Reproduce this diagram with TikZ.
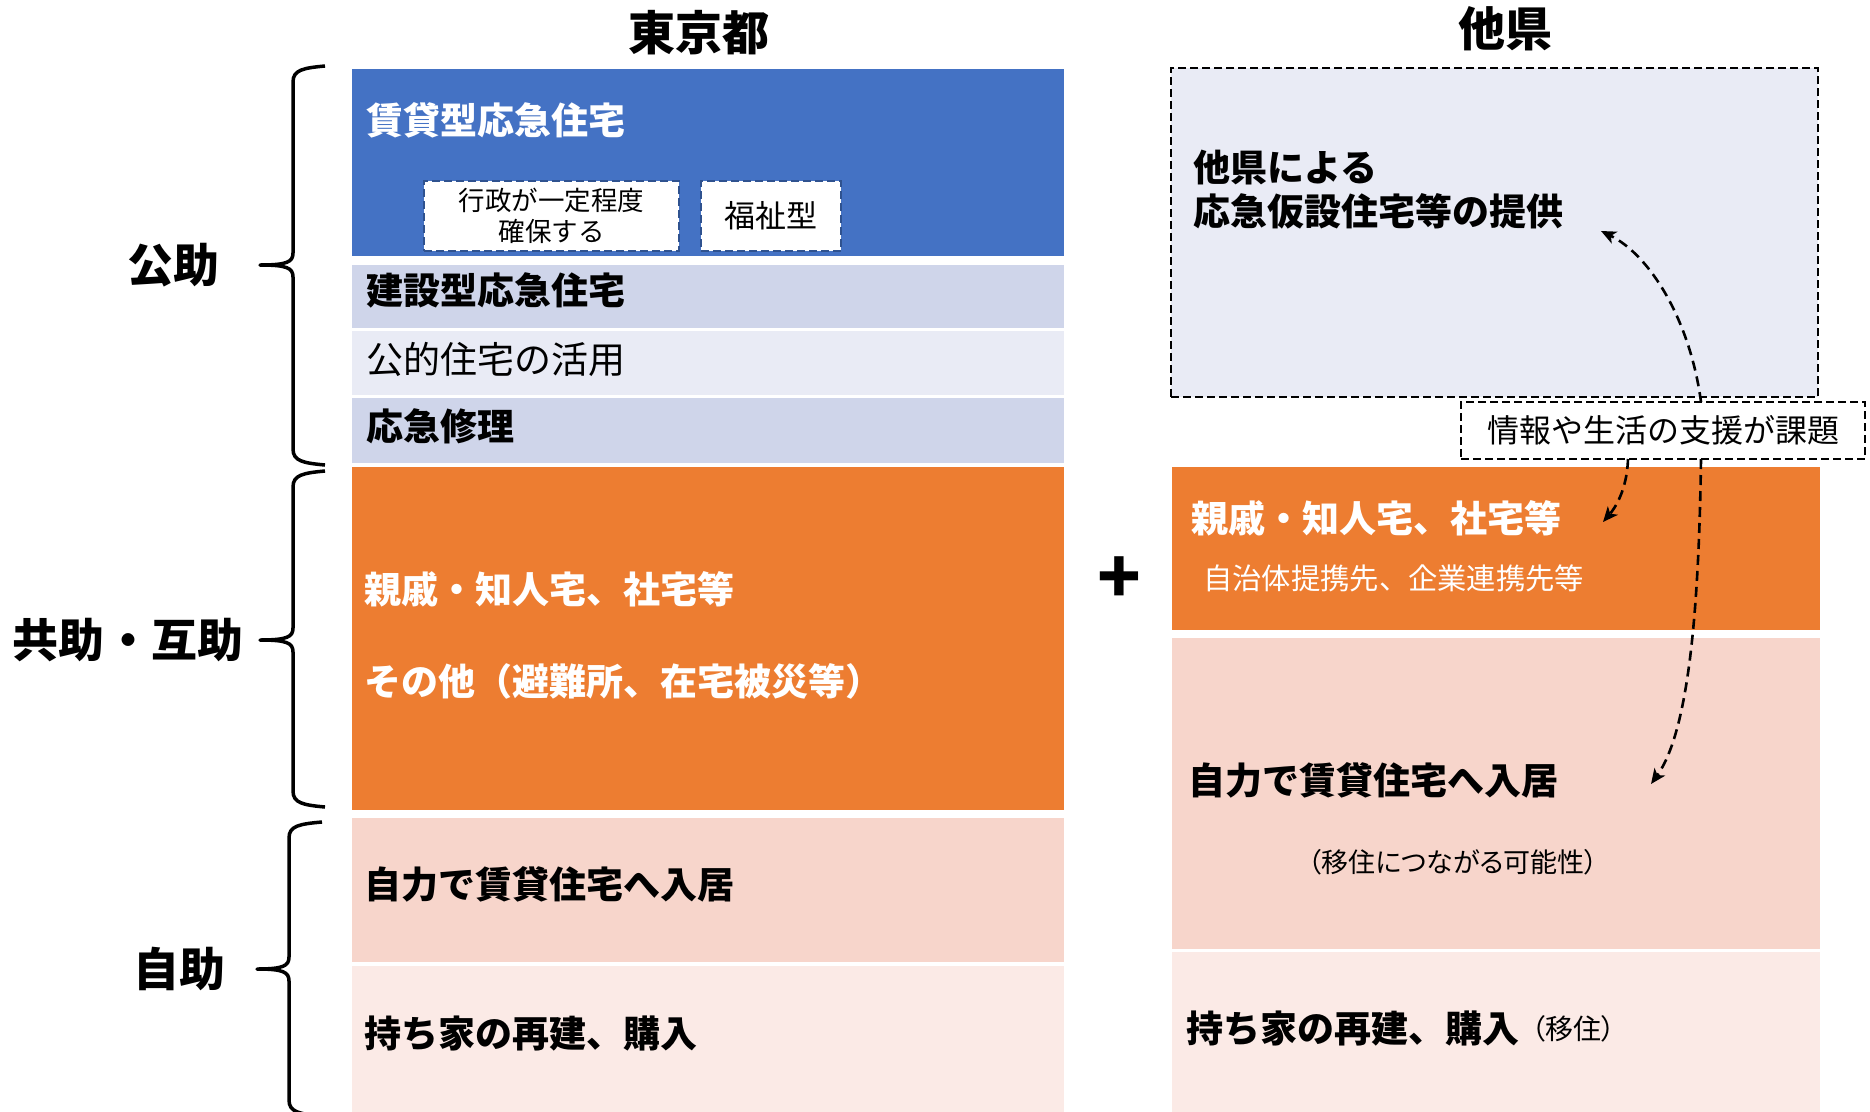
\documentclass[tikz,border=0pt]{standalone}
\usepackage{fontspec}
\setmainfont{Noto Sans CJK JP}
\newfontfamily\jpp[RawFeature=+palt]{Noto Sans CJK JP}
\usetikzlibrary{arrows.meta,calc}
\definecolor{cblue}{HTML}{4472C4}
\definecolor{bandA}{HTML}{CFD5EA}
\definecolor{bandB}{HTML}{E9EBF5}
\definecolor{corange}{HTML}{ED7D31}
\definecolor{cpink}{HTML}{F7D5CB}
\definecolor{clpink}{HTML}{FBEAE6}
\definecolor{dblue}{HTML}{2F528F}
\newcommand{\fsz}[1]{\fontsize{#1bp}{#1bp}\selectfont}
% brace: xe, xv, xt, ytop, ymid, ybot
\newcommand{\mybrace}[6]{%
  \draw[bracepath] (#1,{#4-2}) .. controls ({#2+10},#4) and (#2,{#4+2}) .. (#2,{#4+14})
    -- (#2,{#5-12}) .. controls (#2,{#5-3}) and ({#2-6},#5) .. (#3,#5)
    .. controls ({#2-6},#5) and (#2,{#5+3}) .. (#2,{#5+12})
    -- (#2,{#6-14}) .. controls (#2,{#6-2}) and ({#2+10},#6) .. (#1,{#6+2});}
\begin{document}
\begin{tikzpicture}[x=1bp,y=-1bp,
  cell/.style={rectangle,draw=none,inner sep=0pt,outer sep=0pt,anchor=north west},
  dbox/.style={cell,draw=black,line width=2.7bp,dash pattern=on 8bp off 4bp},
  sbox/.style={cell,fill=white,draw=dblue,line width=2.6bp,dash pattern=on 8bp off 4bp},
  bigb/.style={anchor=west,inner sep=0pt,font=\fsz{37}\bfseries},
  bigr/.style={anchor=west,inner sep=0pt,font=\fsz{37}},
  lab/.style={inner sep=0pt,font=\fsz{46}\bfseries},
  ttl/.style={inner sep=0pt,font=\fsz{47}\bfseries},
  conn/.style={line width=2.6bp,dash pattern=on 10bp off 6bp,-{Stealth[length=15bp,width=13bp,inset=4bp]}},
  bracepath/.style={line width=3.5bp,line join=round}
]
\fill[white] (0,0) rectangle (1870,1111);
\useasboundingbox (0,0) rectangle (1870,1111);

% ---- titles
\node[ttl] (tTokyo) at (699,33) {東京都};
\node[ttl] (tOther) at (1505,29) {他県};

% ---- left column cells
\node[cell,fill=cblue,minimum width=712bp,minimum height=187bp] (rent) at (352,69) {};
\node[cell,fill=bandA,minimum width=712bp,minimum height=63bp] (build) at (352,265) {};
\node[cell,fill=bandB,minimum width=712bp,minimum height=64bp] (public) at (352,331) {};
\node[cell,fill=bandA,minimum width=712bp,minimum height=65bp] (repair) at (352,398) {};
\node[cell,fill=corange,minimum width=712bp,minimum height=343bp] (kinL) at (352,467) {};
\node[cell,fill=cpink,minimum width=712bp,minimum height=144bp] (selfL) at (352,818) {};
\node[cell,fill=clpink,minimum width=712bp,minimum height=150bp] (ownL) at (352,966) {};

\node[sbox,minimum width=255bp,minimum height=70bp] (gov) at (424,181) {};
\node[sbox,minimum width=140bp,minimum height=70bp] (welf) at (701,181) {};
\node[inner sep=0pt,align=center,font=\fontsize{26.5bp}{31bp}\selectfont] (tgov) at (gov.center) {行政が一定程度\\確保する};
\node[inner sep=0pt,font=\fsz{31}] (twelf) at (welf.center) {福祉型};

\node[bigb,text=white] (trent) at (366,120) {賃貸型応急住宅};
\node[bigb] (tbuild) at (366,290) {建設型応急住宅};
\node[bigr] (tpublic) at (366,359) {公的住宅の活用};
\node[bigb] (trepair) at (366,426) {応急修理};
\node[bigb,text=white] (tkinL) at (364,589) {親戚・知人宅、社宅等};
\node[bigb,text=white] (totherL) at (364,681) {その他（避難所、在宅被災等）};
\node[bigb] (tselfL) at (364,884) {自力で賃貸住宅へ入居};
\node[bigb] (townL) at (364,1034) {持ち家の再建、購入};

% ---- plus
\node[inner sep=0pt,font=\fsz{72}\bfseries] (plus) at (1119,580) {+};

% ---- right column
\node[dbox,fill=bandB,minimum width=647bp,minimum height=329bp] (other) at (1171,68) {};
\node[anchor=west,inner sep=0pt,align=left,font=\fontsize{37bp}{44bp}\selectfont\bfseries] (tother) at (1193,190) {他県による\\応急仮設住宅等の提供};
\node[dbox,fill=white,minimum width=404bp,minimum height=57bp] (info) at (1461,402) {};
\node[inner sep=0pt,font=\fsz{32}] (tinfo) at (info.center) {情報や生活の支援が課題};

\node[cell,fill=corange,minimum width=648bp,minimum height=163bp] (kinR) at (1172,467) {};
\node[cell,fill=cpink,minimum width=648bp,minimum height=311bp] (selfR) at (1172,638) {};
\node[cell,fill=clpink,minimum width=648bp,minimum height=165bp] (ownR) at (1172,952) {};

\node[bigb,text=white] (tkinR) at (1191,518) {親戚・知人宅、社宅等};
\node[anchor=west,inner sep=0pt,text=white,font=\fsz{29.3}] (tkinR2) at (1203,578) {自治体提携先、企業連携先等};
\node[bigb] (tselfR) at (1188,780) {自力で賃貸住宅へ入居};
\node[inner sep=0pt,font=\jpp\fsz{27}] (tselfR2) at (1453,862) {（移住につながる可能性）};
\node[bigb] (townR) at (1186,1029) {持ち家の再建、購入};
\node[anchor=west,inner sep=0pt,font=\jpp\fsz{28}] (townR2) at (1531,1029) {（移住）};

% ---- connectors
\coordinate (e1) at (1601,231);
\coordinate (e2) at (1603,522);
\coordinate (e3) at (1651,784);
\draw[conn] ([xshift=240bp]info.north west) .. controls (1690,320) and (1650,255) .. (e1);
\draw[conn] ([xshift=167bp]info.south west) .. controls (1627,490) and (1615,508) .. (e2);
\draw[conn] ([xshift=240bp]info.south west) .. controls (1699,600) and (1690,730) .. (e3);

% ---- braces and labels
\mybrace{325}{293}{260}{68}{265}{463}
\mybrace{325}{293}{260}{473}{640}{805}
\mybrace{322}{289}{257}{824}{969}{1114}
\node[lab] (lPublic) at (173,265) {公助};
\node[lab] (lMutual) at (128,640) {共助・互助};
\node[lab] (lSelf) at (179,969) {自助};
\end{tikzpicture}
\end{document}
